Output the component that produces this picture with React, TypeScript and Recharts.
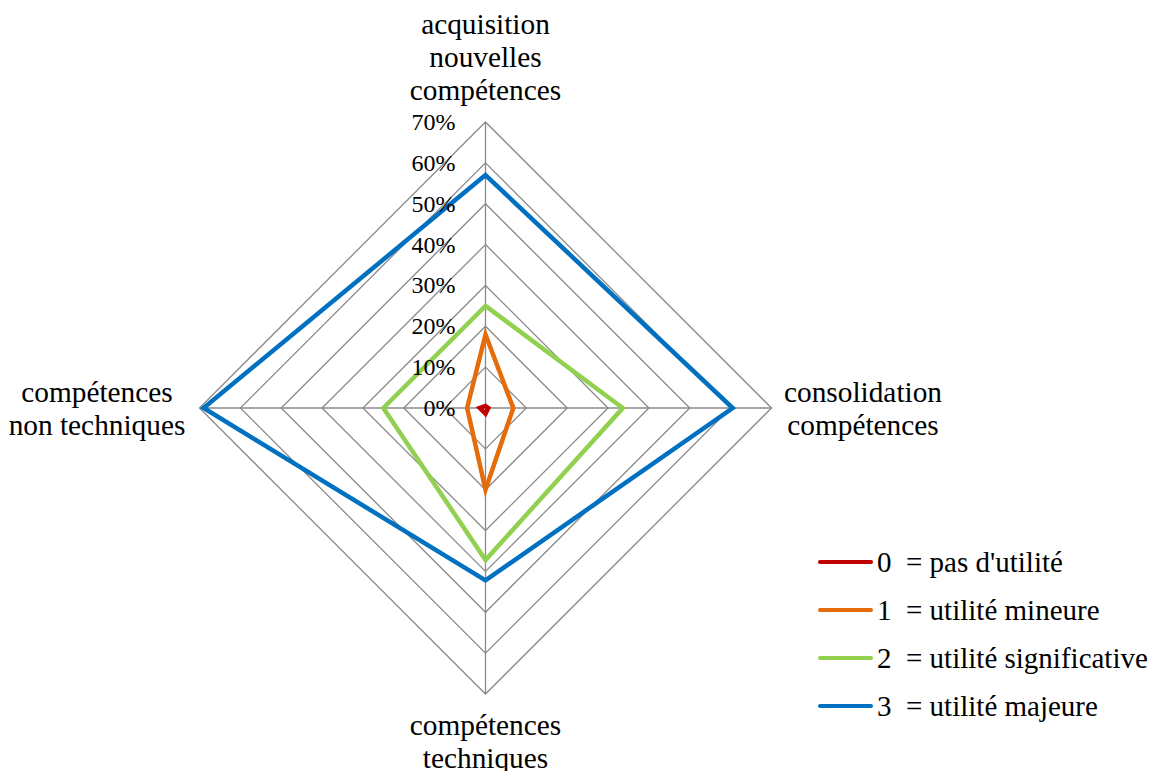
import React from 'react';
import { RadarChart, Radar, PolarGrid, PolarAngleAxis, PolarRadiusAxis, Legend } from 'recharts';

const categories = [
  'acquisition nouvelles compétences',
  'consolidation compétences',
  'compétences techniques',
  'compétences non techniques',
];
const categoryLines = [
  ['acquisition', 'nouvelles', 'compétences'],
  ['consolidation', 'compétences'],
  ['compétences', 'techniques'],
  ['compétences', 'non techniques'],
];
const seriesNames = [
  "0  = pas d'utilité",
  '1  = utilité mineure',
  '2  = utilité significative',
  '3  = utilité majeure',
];
const seriesColors = ['#C00000', '#E46C0A', '#92D050', '#0070C0'];
const pasUtilite = [0.5, 0.7, 1.4, 1.4];
const utiliteMineure = [18, 6.8, 20, 4.5];
const utiliteSignificative = [25, 33.6, 37.2, 25];
const utiliteMajeure = [57, 60.5, 42.2, 69];
const radiusDomain = [0, 70];
const radiusTickCount = 8;

const seriesValues = [pasUtilite, utiliteMineure, utiliteSignificative, utiliteMajeure];
const seriesKeys = ['s0', 's1', 's2', 's3'];

const data = categories.map((c, i) => {
  const row: any = { axis: c };
  seriesKeys.forEach((k, j) => {
    row[k] = seriesValues[j][i];
  });
  return row;
});

const FONT = "'Liberation Serif', serif";

const AngleTick = (props: any) => {
  const { x, y, payload } = props;
  const idx = categories.indexOf(payload.value);
  const lines = categoryLines[idx] || [String(payload.value)];
  let dx = 0;
  let firstDy = 0;
  const step = 33;
  if (idx === 0) {
    dx = 0;
    firstDy = -80;
  } else if (idx === 1) {
    dx = 83.5;
    firstDy = -6;
  } else if (idx === 2) {
    dx = 0;
    firstDy = 33;
  } else {
    dx = -94.5;
    firstDy = -6;
  }
  return (
    <text textAnchor="middle" fill="#000" fontFamily="Liberation Serif" fontSize={29.33}>
      {lines.map((l, i) => (
        <tspan key={i} x={x + dx} y={y + firstDy + i * step}>
          {l}
        </tspan>
      ))}
    </text>
  );
};

const RadiusTick = (props: any) => {
  const { x, y, payload } = props;
  return (
    <text x={x - 30} y={y + 8} textAnchor="end" fill="#000" fontFamily="Liberation Serif" fontSize={24}>
      {`${payload.value}%`}
    </text>
  );
};

const renderLegend = (props: any) => {
  const { payload } = props;
  return (
    <div style={{ fontFamily: FONT }}>
      {(payload || []).map((entry: any, i: number) => (
        <div key={i} style={{ display: 'flex', alignItems: 'center', height: 48 }}>
          <div
            style={{
              width: 55,
              height: 4.5,
              borderRadius: 2.25,
              background: entry.color,
              marginRight: 4,
              flex: 'none',
            }}
          />
          <span
            style={{
              fontFamily: FONT,
              fontSize: 29,
              lineHeight: '48px',
              whiteSpace: 'pre',
              color: '#000',
            }}
          >
            {entry.value}
          </span>
        </div>
      ))}
    </div>
  );
};

export default function App() {
  return (
    <div
      style={{
        position: 'absolute',
        left: 0,
        top: 0,
        width: 1149,
        height: 771,
        overflow: 'hidden',
        fontFamily: FONT,
      }}
    >
      <RadarChart
        width={1149}
        height={771}
        data={data}
        cx={485.5}
        cy={408}
        outerRadius={286}
        margin={{ top: 0, right: 0, bottom: 0, left: 0 }}
        style={{ fontFamily: FONT }}
      >
        <PolarGrid gridType="polygon" stroke="#8a8a8a" strokeWidth={1.3} />
        <PolarAngleAxis dataKey="axis" tick={<AngleTick />} tickLine={false} axisLine={false} />
        <PolarRadiusAxis
          angle={90}
          domain={radiusDomain}
          tickCount={radiusTickCount}
          tick={<RadiusTick />}
          axisLine={false}
          tickLine={false}
        />
        {seriesKeys.map((k, j) => (
          <Radar
            key={k}
            dataKey={k}
            name={seriesNames[j]}
            stroke={seriesColors[j]}
            strokeWidth={4.5}
            fill="none"
            fillOpacity={0}
            dot={false}
            isAnimationActive={false}
          />
        ))}
        <Legend
          layout="vertical"
          align="right"
          verticalAlign="middle"
          content={renderLegend}
          wrapperStyle={{ position: 'absolute', left: 818, top: 538, width: 331 }}
        />
      </RadarChart>
    </div>
  );
}
